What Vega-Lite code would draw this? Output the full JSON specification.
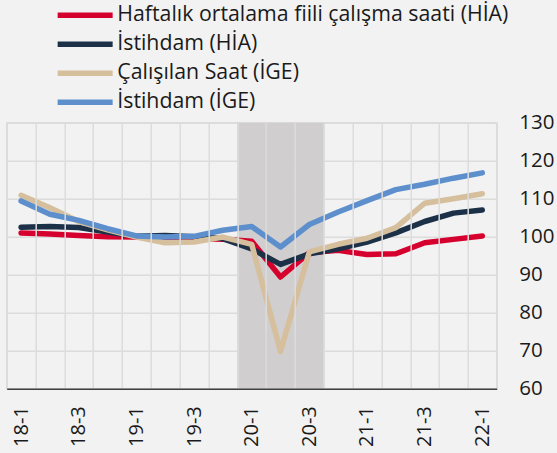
{
  "$schema": "https://vega.github.io/schema/vega-lite/v6.json",
  "width": 490,
  "height": 266,
  "autosize": {"type": "none"},
  "padding": {"left": 6.7, "top": 122.7, "right": 60.3, "bottom": 64.3},
  "background": "#f2f2f2",
  "config": {
    "view": {"stroke": "#dcdcdc", "strokeWidth": 1.5, "fill": "#f2f2f2"},
    "font": "Open Sans"
  },
  "datasets": {
    "shade": [{"q": "20-1"}, {"q": "20-2"}, {"q": "20-3"}],
    "series": [
      {"q": "18-1", "s": "Haftalık ortalama fiili çalışma saati (HİA)", "v": 101.0},
      {"q": "18-2", "s": "Haftalık ortalama fiili çalışma saati (HİA)", "v": 100.7},
      {"q": "18-3", "s": "Haftalık ortalama fiili çalışma saati (HİA)", "v": 100.3},
      {"q": "18-4", "s": "Haftalık ortalama fiili çalışma saati (HİA)", "v": 100.0},
      {"q": "19-1", "s": "Haftalık ortalama fiili çalışma saati (HİA)", "v": 99.9},
      {"q": "19-2", "s": "Haftalık ortalama fiili çalışma saati (HİA)", "v": 99.7},
      {"q": "19-3", "s": "Haftalık ortalama fiili çalışma saati (HİA)", "v": 99.5},
      {"q": "19-4", "s": "Haftalık ortalama fiili çalışma saati (HİA)", "v": 99.3},
      {"q": "20-1", "s": "Haftalık ortalama fiili çalışma saati (HİA)", "v": 98.8},
      {"q": "20-2", "s": "Haftalık ortalama fiili çalışma saati (HİA)", "v": 89.4},
      {"q": "20-3", "s": "Haftalık ortalama fiili çalışma saati (HİA)", "v": 95.8},
      {"q": "20-4", "s": "Haftalık ortalama fiili çalışma saati (HİA)", "v": 96.4},
      {"q": "21-1", "s": "Haftalık ortalama fiili çalışma saati (HİA)", "v": 95.3},
      {"q": "21-2", "s": "Haftalık ortalama fiili çalışma saati (HİA)", "v": 95.5},
      {"q": "21-3", "s": "Haftalık ortalama fiili çalışma saati (HİA)", "v": 98.4},
      {"q": "21-4", "s": "Haftalık ortalama fiili çalışma saati (HİA)", "v": 99.3},
      {"q": "22-1", "s": "Haftalık ortalama fiili çalışma saati (HİA)", "v": 100.2},
      {"q": "18-1", "s": "İstihdam (HİA)", "v": 102.5},
      {"q": "18-2", "s": "İstihdam (HİA)", "v": 102.7},
      {"q": "18-3", "s": "İstihdam (HİA)", "v": 102.4},
      {"q": "18-4", "s": "İstihdam (HİA)", "v": 101.2},
      {"q": "19-1", "s": "İstihdam (HİA)", "v": 100.1},
      {"q": "19-2", "s": "İstihdam (HİA)", "v": 100.3},
      {"q": "19-3", "s": "İstihdam (HİA)", "v": 100.0},
      {"q": "19-4", "s": "İstihdam (HİA)", "v": 99.5},
      {"q": "20-1", "s": "İstihdam (HİA)", "v": 96.8},
      {"q": "20-2", "s": "İstihdam (HİA)", "v": 92.7},
      {"q": "20-3", "s": "İstihdam (HİA)", "v": 95.5},
      {"q": "20-4", "s": "İstihdam (HİA)", "v": 96.8},
      {"q": "21-1", "s": "İstihdam (HİA)", "v": 98.6},
      {"q": "21-2", "s": "İstihdam (HİA)", "v": 101.0},
      {"q": "21-3", "s": "İstihdam (HİA)", "v": 104.0},
      {"q": "21-4", "s": "İstihdam (HİA)", "v": 106.2},
      {"q": "22-1", "s": "İstihdam (HİA)", "v": 107.0},
      {"q": "18-1", "s": "Çalışılan Saat (İGE)", "v": 110.9},
      {"q": "18-2", "s": "Çalışılan Saat (İGE)", "v": 107.6},
      {"q": "18-3", "s": "Çalışılan Saat (İGE)", "v": 104.0},
      {"q": "18-4", "s": "Çalışılan Saat (İGE)", "v": 101.8},
      {"q": "19-1", "s": "Çalışılan Saat (İGE)", "v": 99.9},
      {"q": "19-2", "s": "Çalışılan Saat (İGE)", "v": 98.4},
      {"q": "19-3", "s": "Çalışılan Saat (İGE)", "v": 98.6},
      {"q": "19-4", "s": "Çalışılan Saat (İGE)", "v": 99.9},
      {"q": "20-1", "s": "Çalışılan Saat (İGE)", "v": 98.0},
      {"q": "20-2", "s": "Çalışılan Saat (İGE)", "v": 69.8},
      {"q": "20-3", "s": "Çalışılan Saat (İGE)", "v": 96.0},
      {"q": "20-4", "s": "Çalışılan Saat (İGE)", "v": 98.0},
      {"q": "21-1", "s": "Çalışılan Saat (İGE)", "v": 99.6},
      {"q": "21-2", "s": "Çalışılan Saat (İGE)", "v": 102.4},
      {"q": "21-3", "s": "Çalışılan Saat (İGE)", "v": 108.8},
      {"q": "21-4", "s": "Çalışılan Saat (İGE)", "v": 110.0},
      {"q": "22-1", "s": "Çalışılan Saat (İGE)", "v": 111.3},
      {"q": "18-1", "s": "İstihdam (İGE)", "v": 109.4},
      {"q": "18-2", "s": "İstihdam (İGE)", "v": 105.9},
      {"q": "18-3", "s": "İstihdam (İGE)", "v": 104.3},
      {"q": "18-4", "s": "İstihdam (İGE)", "v": 102.1},
      {"q": "19-1", "s": "İstihdam (İGE)", "v": 100.2},
      {"q": "19-2", "s": "İstihdam (İGE)", "v": 99.9},
      {"q": "19-3", "s": "İstihdam (İGE)", "v": 100.1},
      {"q": "19-4", "s": "İstihdam (İGE)", "v": 101.7},
      {"q": "20-1", "s": "İstihdam (İGE)", "v": 102.7},
      {"q": "20-2", "s": "İstihdam (İGE)", "v": 97.3},
      {"q": "20-3", "s": "İstihdam (İGE)", "v": 103.2},
      {"q": "20-4", "s": "İstihdam (İGE)", "v": 106.5},
      {"q": "21-1", "s": "İstihdam (İGE)", "v": 109.5},
      {"q": "21-2", "s": "İstihdam (İGE)", "v": 112.4},
      {"q": "21-3", "s": "İstihdam (İGE)", "v": 113.8},
      {"q": "21-4", "s": "İstihdam (İGE)", "v": 115.4},
      {"q": "22-1", "s": "İstihdam (İGE)", "v": 116.8}
    ]
  },
  "encoding": {
    "x": {
      "field": "q",
      "type": "ordinal",
      "scale": {
        "type": "band",
        "paddingInner": 0,
        "paddingOuter": 0,
        "domain": ["18-1","18-2","18-3","18-4","19-1","19-2","19-3","19-4","20-1","20-2","20-3","20-4","21-1","21-2","21-3","21-4","22-1"]
      },
      "axis": {
        "title": null,
        "orient": "bottom",
        "tickBand": "extent",
        "grid": true,
        "gridColor": "#dcdcdc",
        "gridWidth": 1.5,
        "ticks": false,
        "tickSize": 0,
        "domain": true,
        "domainColor": "#404040",
        "domainWidth": 1.5,
        "labelAngle": -90,
        "labelAlign": "right",
        "labelBaseline": "middle",
        "labelPadding": 17,
        "labelFontSize": 20,
        "labelFont": "Open Sans",
        "labelColor": "#1a1a1a",
        "labelExpr": "test(/-[13]$/, datum.label) ? datum.label : ''"
      }
    }
  },
  "layer": [
    {
      "data": {"name": "shade"},
      "mark": {"type": "rect", "color": "#d0cecf"},
      "encoding": {}
    },
    {
      "data": {"name": "series"},
      "mark": {"type": "line", "strokeWidth": 5.5, "strokeCap": "round", "strokeJoin": "round"},
      "encoding": {
        "y": {
          "field": "v",
          "type": "quantitative",
          "scale": {"domain": [60, 130], "nice": false, "zero": false},
          "axis": {
            "title": null,
            "orient": "right",
            "values": [60, 70, 80, 90, 100, 110, 120, 130],
            "grid": true,
            "gridColor": "#dcdcdc",
            "gridWidth": 1.5,
            "ticks": false,
            "tickSize": 0,
            "domain": false,
            "labelPadding": 22,
            "labelAlign": "left",
            "labelFontSize": 20.5,
            "labelFont": "Open Sans",
            "labelColor": "#1a1a1a"
          }
        },
        "color": {
          "field": "s",
          "type": "nominal",
          "sort": null,
          "scale": {
            "domain": ["Haftalık ortalama fiili çalışma saati (HİA)", "İstihdam (HİA)", "Çalışılan Saat (İGE)", "İstihdam (İGE)"],
            "range": ["#d6002f", "#1c3148", "#d6bf9c", "#5d8fcd"]
          },
          "legend": {
            "title": null,
            "orient": "none",
            "legendX": 67.8,
            "legendY": -118,
            "padding": 0,
            "symbolType": "M-5.5,0H5.5",
            "symbolSize": 100,
            "symbolStrokeWidth": 5.5,
            "labelFontSize": 21.3,
            "labelFont": "Open Sans",
            "labelColor": "#1a1a1a",
            "labelOffset": 21.5,
            "rowPadding": 6,
            "labelLimit": 500
          }
        }
      }
    }
  ]
}
